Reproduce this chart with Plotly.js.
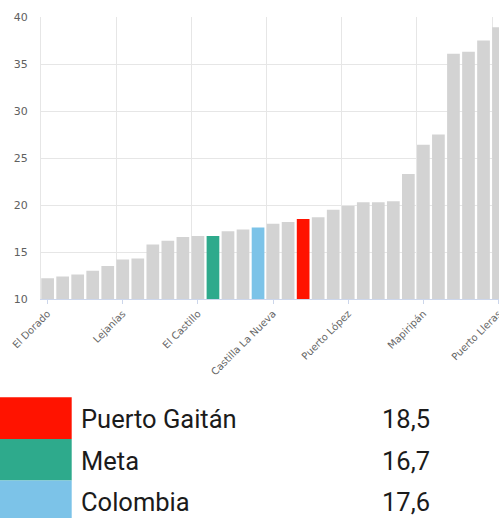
<!DOCTYPE html>
<html>
<head>
<meta charset="utf-8">
<script src="https://cdn.plot.ly/plotly-3.0.1.min.js"></script>
<style>html,body{margin:0;padding:0;background:#fff;}#chart{width:499px;height:518px;}</style>
</head>
<body>
<div id="chart"></div>
<script>
// ---- data ----
const barIndex = [1,2,3,4,5,6,7,8,9,10,11,12,13,14,15,16,17,18,19,20,21,22,23,24,25,26,27,28,29,30,31];
const barValues = [12.2,12.4,12.6,13.0,13.5,14.2,14.3,15.8,16.2,16.6,16.7,16.7,17.2,17.4,17.6,18.0,18.2,18.5,18.7,19.5,19.9,20.3,20.3,20.4,23.3,26.4,27.5,36.1,36.3,37.5,38.9];
const highlightIndex = [18, 12, 15];          // Puerto Gaitán, Meta, Colombia
const tickIndex = [1,6,11,16,21,26,31];
const tickLabels = ['El Dorado','Lejanías','El Castillo','Castilla La Nueva','Puerto López','Mapiripán','Puerto Lleras'];
const legendNames = ['Puerto Gaitán','Meta','Colombia'];
const legendValues = [18.5,16.7,17.6];
const legendColors = ['#FF1300','#2EAA8C','#7CC3E8'];
const baseColor = '#D3D3D3';

// ---- layout geometry ----
const W = 499, H = 518;
const M = {l:41, r:0, t:17, b:219};
const plotW = W - M.l - M.r, plotH = H - M.t - M.b;
const px2x = p => (p - M.l) / plotW;
const px2y = p => (H - M.b - p) / plotH;

const colors = barIndex.map(i => {
  const k = highlightIndex.indexOf(i);
  return k >= 0 ? legendColors[k] : baseColor;
});

const trace = {
  type: 'bar',
  x: barIndex,
  y: barValues,
  marker: {color: colors, line: {width: 0}},
  hoverinfo: 'none'
};

const shapes = [], annotations = [];
const rowTop = 397.3, rowH = 41.6;
const legendFont = {family: 'Roboto', size: 25.5, color: '#1b1b1b'};
legendNames.forEach((name, k) => {
  const top = rowTop + k * rowH;
  shapes.push({
    type: 'rect', xref: 'paper', yref: 'paper',
    x0: px2x(-2), x1: px2x(71.7), y0: px2y(top), y1: px2y(top + rowH),
    fillcolor: legendColors[k], line: {width: 0}, layer: 'above'
  });
  const cy = px2y(top + rowH / 2 + 1);
  annotations.push({
    xref: 'paper', yref: 'paper', x: px2x(79), y: cy,
    xanchor: 'left', yanchor: 'middle', showarrow: false,
    text: name, font: legendFont
  });
  annotations.push({
    xref: 'paper', yref: 'paper', x: px2x(380), y: cy,
    xanchor: 'left', yanchor: 'middle', showarrow: false,
    text: legendValues[k].toFixed(1).replace('.', ','),
    font: legendFont
  });
});

const layout = {
  width: W, height: H,
  margin: M,
  paper_bgcolor: '#fff', plot_bgcolor: '#fff',
  showlegend: false,
  bargap: 0.155,
  xaxis: {
    range: [0.56, 31.03],
    tickmode: 'array', tickvals: tickIndex, ticktext: tickLabels,
    tickangle: -45,
    ticklabeloverflow: 'allow',
    ticks: 'outside', ticklen: 4, tickcolor: '#ccd6eb',
    showgrid: false, zeroline: false,
    showline: true, linecolor: '#ccd6eb', linewidth: 1,
    tickfont: {family: 'DejaVu Sans', size: 10, color: '#666'},
    minor: {tickmode: 'linear', tick0: 0.57, dtick: 5, showgrid: true, gridcolor: '#e6e6e6', gridwidth: 1, ticks: ''},
    fixedrange: true
  },
  yaxis: {
    range: [10, 40],
    tickmode: 'linear', tick0: 10, dtick: 5,
    showgrid: true, gridcolor: '#e6e6e6', gridwidth: 1,
    zeroline: false,
    showline: true, linecolor: '#e6e6e6',
    ticks: '', ticklabelstandoff: 10,
    tickfont: {family: 'DejaVu Sans', size: 11, color: '#606060'},
    fixedrange: true
  },
  shapes: shapes,
  annotations: annotations
};

Plotly.newPlot('chart', [trace], layout, {displayModeBar: false, staticPlot: true});
</script>
</body>
</html>
